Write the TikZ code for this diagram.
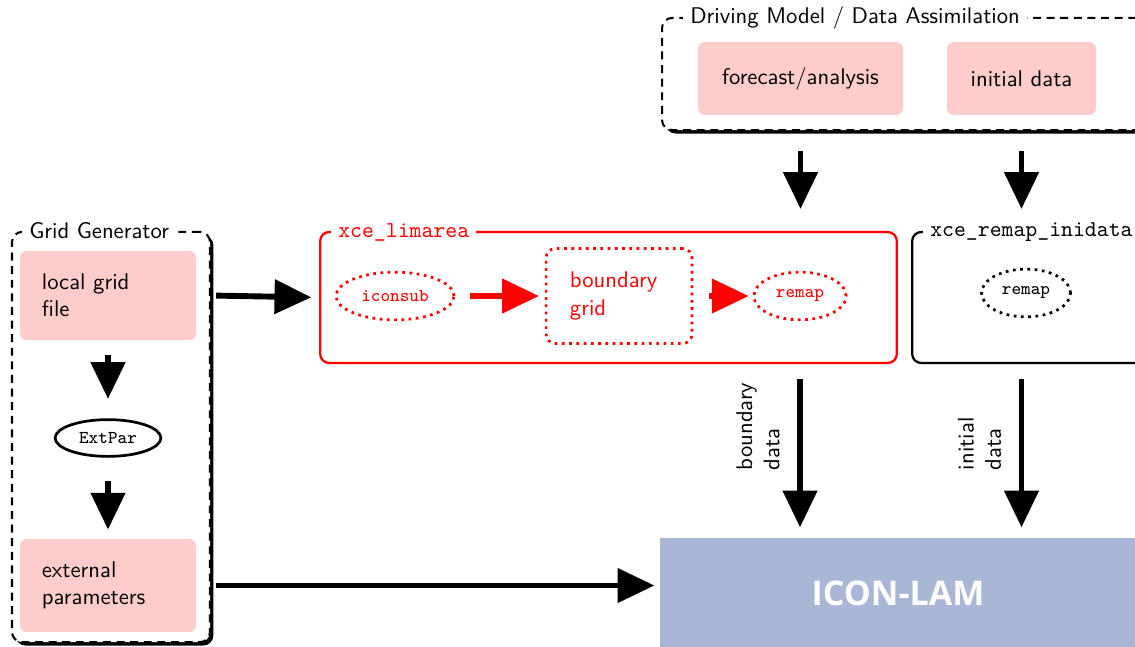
\documentclass[tikz,border=0pt]{standalone}
\usepackage{fontspec}
\newfontfamily\lamfont{Open Sans}
\usepackage{tikz}
\usepackage{xcolor}
\usetikzlibrary{shapes.geometric, arrows.meta, calc, shadows}
\definecolor{cPink}{RGB}{255,204,204}
\definecolor{cLam}{RGB}{170,182,214}
\tikzset{
	grpbox/.style   ={rectangle, rounded corners=4.5pt, draw=black, line width=0.9pt, dash pattern=on 3.5pt off 2.5pt, fill=white, drop shadow={shadow xshift=1.5pt, shadow yshift=-1.5pt, fill=black, opacity=1}},
	grptitle/.style ={anchor=west, fill=white, inner sep=3pt},
	toolbox/.style  ={rectangle, rounded corners=4pt, draw=black, line width=1pt},
	pinkbox/.style  ={rectangle, rounded corners=3pt, fill=cPink, align=center},
	leftbox/.style  ={pinkbox, align=left, inner xsep=0.34cm, text width=2.05cm},
	prog/.style     ={ellipse, draw=black, line width=1.2pt, inner sep=0pt, font=\ttfamily\footnotesize},
	dotprog/.style  ={prog, dotted},
	lambox/.style   ={rectangle, fill=cLam, text=white, font=\lamfont\bfseries\fontsize{15}{18}\selectfont},
	bigarrow/.style ={-{Triangle[length=0.57cm, width=0.52cm]}, line width=2.6pt},
	sidelabel/.style={rotate=90, anchor=south west, align=left, inner xsep=1pt, inner ysep=0.27cm},
}

\begin{document}
\begin{tikzpicture}[x=0.0155cm, y=-0.0155cm, font=\sffamily]
					\useasboundingbox (0,0) rectangle (1135,646);
					\clip (0,0) rectangle (1135,646);
					% grid generator
					\node[grpbox, minimum width=3.07cm, minimum height=6.36cm] (gridgen) at (111,437) {};
					\node[grptitle] (gridgentitle) at (22,231) {Grid Generator};
					\node[leftbox, minimum width=2.73cm, minimum height=1.38cm] (localgrid) at (108,295.5) {local grid\\file};
					\node[prog, minimum width=1.64cm, minimum height=0.57cm] (extpar) at (108,438) {ExtPar};
					\node[leftbox, minimum width=2.73cm, minimum height=1.44cm] (extparam) at (108,585.5) {external\\parameters};
					% driving model
					\node[grpbox, minimum width=7.72cm, minimum height=1.74cm] (driving) at (911,74) {};
					\node[grptitle] (drivingtitle) at (683,18) {Driving Model / Data Assimilation};
					\node[pinkbox, minimum width=3.18cm, minimum height=1.13cm] (forecast) at (800.5,78.5) {forecast/analysis};
					\node[pinkbox, minimum width=2.31cm, minimum height=1.13cm] (initdata) at (1021.5,78.5) {initial data};
					% xce_limarea
					\node[toolbox, draw=red, minimum width=8.94cm, minimum height=2.03cm] (limarea) at (608.5,297.5) {};
					\node[grptitle, text=red, font=\ttfamily] (limareatitle) at (331,232) {xce\_limarea};
					\node[dotprog, draw=red, text=red, minimum width=1.83cm, minimum height=0.74cm] (iconsub) at (395,296) {iconsub};
					\node[rectangle, rounded corners=4pt, draw=red, text=red, line width=1.2pt, dotted, align=left, inner xsep=0.37cm, text width=1.52cm, minimum width=2.26cm, minimum height=1.47cm] (bgrid) at (619,296) {boundary\\grid};
					\node[dotprog, draw=red, text=red, minimum width=1.43cm, minimum height=0.74cm] (remapred) at (800,296) {remap};
					% xce_remap_inidata
					\node[toolbox, minimum width=3.84cm, minimum height=2.03cm] (inidata) at (1036,297.5) {};
					\node[grptitle, font=\ttfamily] (inidatatitle) at (923,232) {xce\_remap\_inidata};
					\node[dotprog, minimum width=1.38cm, minimum height=0.74cm] (remapblk) at (1026,293) {remap};
					% model
					\node[lambox, minimum width=7.38cm, minimum height=1.7cm] (iconlam) at (898,593) {ICON-LAM};
					% connectors
					\draw[bigarrow, shorten <=0.23cm, shorten >=0.30cm] (localgrid) -- (extpar);
					\draw[bigarrow, shorten <=0.36cm, shorten >=0.14cm] (extpar) -- (extparam);
					\draw[bigarrow, shorten <=0.08cm, shorten >=0.12cm] (localgrid.east -| gridgen.east) -- (limarea.west);
					\draw[bigarrow, shorten <=0.08cm, shorten >=0.08cm] (extparam.east -| gridgen.east) -- (extparam.east -| iconlam.west);
					\draw[bigarrow, shorten <=0.31cm, shorten >=0.34cm] (forecast |- driving.south) -- (forecast |- limarea.north);
					\draw[bigarrow, shorten <=0.31cm, shorten >=0.34cm] (initdata |- driving.south) -- (initdata |- inidata.north);
					\draw[bigarrow, red, shorten <=0.22cm, shorten >=0.09cm] (iconsub) -- (bgrid);
					\draw[bigarrow, red, shorten <=0.25cm, shorten >=0.06cm] (bgrid) -- (remapred);
					\draw[bigarrow, shorten <=0.23cm, shorten >=0.16cm] (remapred |- limarea.south) -- (remapred |- iconlam.north) node[sidelabel, pos=0.64] {boundary\\data};
					\draw[bigarrow, shorten <=0.23cm, shorten >=0.16cm] (initdata |- inidata.south) -- (initdata |- iconlam.north) node[sidelabel, pos=0.64] {initial\\data};
				\end{tikzpicture}
\end{document}
